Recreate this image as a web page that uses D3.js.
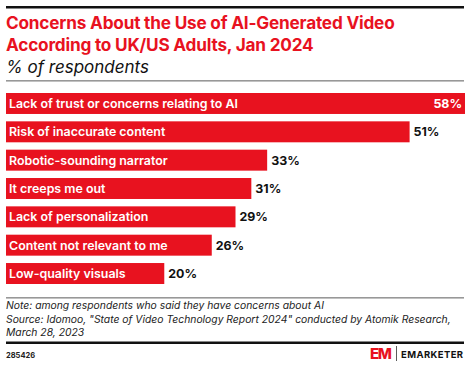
<!DOCTYPE html>
<html>
<head>
<meta charset="utf-8">
<script src="https://cdn.jsdelivr.net/npm/d3@7"></script>
<style>
  body { margin: 0; background: #fff; }
  svg { display: block; font-family: Inter, "Noto Sans", sans-serif; }
</style>
</head>
<body>
<div id="chart"></div>
<script>
const categories = [
  "Lack of trust or concerns relating to AI",
  "Risk of inaccurate content",
  "Robotic-sounding narrator",
  "It creeps me out",
  "Lack of personalization",
  "Content not relevant to me",
  "Low-quality visuals"
];
const values = [58, 51, 33, 31, 29, 26, 20];

const title = ["Concerns About the Use of AI-Generated Video", "According to UK/US Adults, Jan 2024"];
const subtitle = "% of respondents";
const notes = [
  "Note: among respondents who said they have concerns about AI",
  "Source: Idomoo, \"State of Video Technology Report 2024\" conducted by Atomik Research,",
  "March 28, 2023"
];
const chartId = "285426";

const width = 470, height = 368;
const red = "#e8121f";

const svg = d3.select("#chart").append("svg")
  .attr("width", width)
  .attr("height", height);

// top rule
svg.append("rect").attr("x", 6).attr("y", 6).attr("width", 458).attr("height", 2.5).attr("fill", "#111");

// title
svg.append("g").selectAll("text")
  .data(title)
  .join("text")
  .attr("x", 6)
  .attr("y", (d, i) => 29 + i * 21.5)
  .attr("fill", red)
  .attr("font-size", 17.2)
  .attr("font-weight", 700)
  .attr("letter-spacing", -0.2)
  .text(d => d);

svg.append("text")
  .attr("x", 6).attr("y", 73)
  .attr("font-size", 17)
  .attr("font-style", "italic")
  .attr("fill", "#111")
  .text(subtitle);

svg.append("rect").attr("x", 6).attr("y", 80.5).attr("width", 458).attr("height", 0.8).attr("fill", "#333");

// bars
const x = d3.scaleLinear().domain([0, 58]).range([6, 465]);
const y = d3.scaleBand().domain(categories).range([93, 284]).paddingInner(0.26).paddingOuter(0);

const rows = svg.append("g").selectAll("g")
  .data(categories.map((c, i) => ({ c, v: values[i] })))
  .join("g");

rows.append("rect")
  .attr("x", x(0))
  .attr("y", d => y(d.c))
  .attr("width", d => x(d.v) - x(0))
  .attr("height", y.bandwidth())
  .attr("fill", red);

rows.append("text")
  .attr("x", x(0) + 3)
  .attr("y", d => y(d.c) + y.bandwidth() / 2)
  .attr("dy", "0.36em")
  .attr("fill", "#fff")
  .attr("font-size", 12.4)
  .attr("font-weight", 600)
  .text(d => d.c);

rows.append("text")
  .attr("x", (d, i) => i === 0 ? x(d.v) - 3 : x(d.v) + 4)
  .attr("text-anchor", (d, i) => i === 0 ? "end" : "start")
  .attr("y", d => y(d.c) + y.bandwidth() / 2)
  .attr("dy", "0.36em")
  .attr("fill", (d, i) => i === 0 ? "#fff" : "#111")
  .attr("font-size", 12.4)
  .attr("font-weight", 700)
  .text(d => d.v + "%");

// footer
svg.append("rect").attr("x", 6).attr("y", 297.5).attr("width", 458).attr("height", 0.8).attr("fill", "#333");

svg.append("g").selectAll("text")
  .data(notes)
  .join("text")
  .attr("x", 6)
  .attr("y", (d, i) => 309 + i * 13.5)
  .attr("font-size", 10.35)
  .attr("font-style", "italic")
  .attr("fill", "#222")
  .text(d => d);

svg.append("rect").attr("x", 6).attr("y", 341.5).attr("width", 458).attr("height", 2.5).attr("fill", "#111");

svg.append("text")
  .attr("x", 6).attr("y", 358)
  .attr("font-size", 7.5)
  .attr("font-weight", 700)
  .attr("fill", "#222")
  .text(chartId);

// logo
const logo = svg.append("g").attr("transform", "translate(370,347)");
logo.append("text")
  .attr("x", 0).attr("y", 12)
  .attr("font-size", 15)
  .attr("font-weight", 800)
  .attr("fill", red)
  .attr("letter-spacing", -1.5)
  .text("EM");
logo.append("rect").attr("x", 26).attr("y", -1).attr("width", 0.8).attr("height", 15).attr("fill", "#333");
logo.append("text")
  .attr("x", 31).attr("y", 11)
  .attr("font-size", 9.5)
  .attr("font-weight", 700)
  .attr("fill", "#111")
  .attr("letter-spacing", 0.4)
  .text("EMARKETER");
</script>
</body>
</html>
